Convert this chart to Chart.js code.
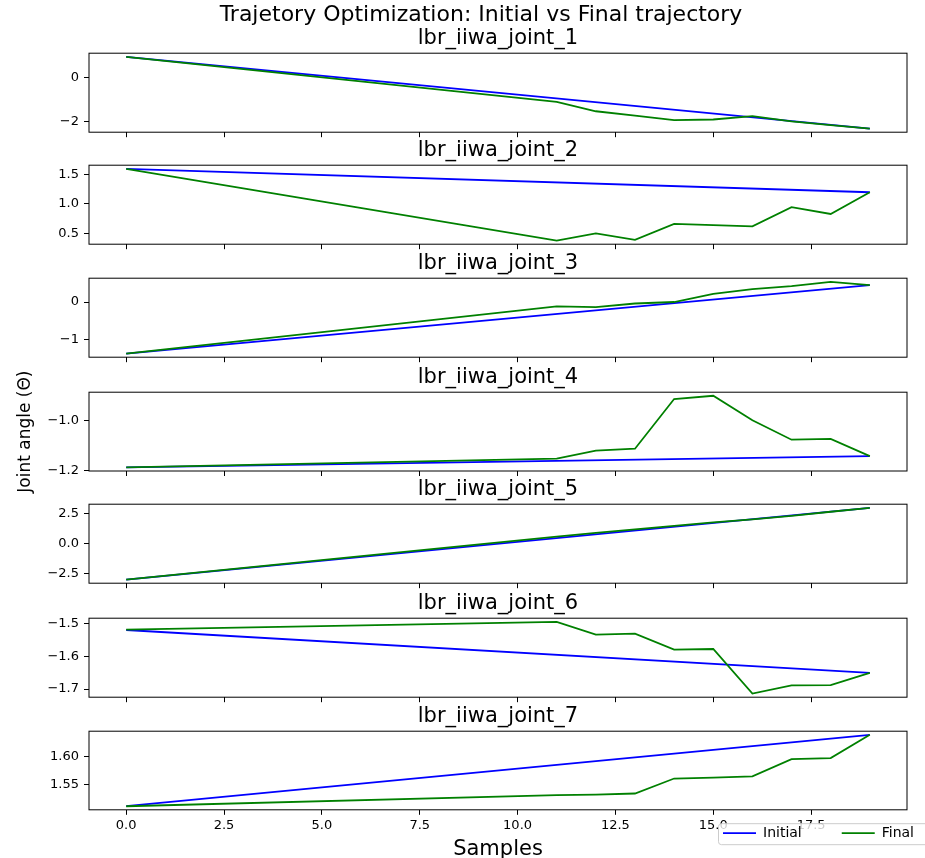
<!DOCTYPE html>
<html>
<head>
<meta charset="utf-8">
<script src="https://cdn.jsdelivr.net/npm/chart.js@4"></script>
<style>
body { margin: 0; background: #fff; overflow: hidden; }
#figure { position: relative; width: 925px; height: 858px; overflow: hidden; background: #fff; }
#figure canvas { position: absolute; left: 0; }
</style>
</head>
<body>
<div id="figure"></div>
<script>
const mainTitle = "Trajetory Optimization: Initial vs Final trajectory";
const jointNames = ["lbr_iiwa_joint_1", "lbr_iiwa_joint_2", "lbr_iiwa_joint_3", "lbr_iiwa_joint_4",
                    "lbr_iiwa_joint_5", "lbr_iiwa_joint_6", "lbr_iiwa_joint_7"];
const seriesNames = ["Initial", "Final"];

const sampleTicks = [0, 2.5, 5, 7.5, 10, 12.5, 15, 17.5];
const initialSamples = [0, 19];
const finalSamples = [0, 11, 12, 13, 14, 15, 16, 17, 18, 19];

const initialJoint1 = [0.93, -2.30];
const initialJoint2 = [1.60, 1.20];
const initialJoint3 = [-1.39, 0.455];
const initialJoint4 = [-1.189, -1.144];
const initialJoint5 = [-2.98, 2.99];
const initialJoint6 = [-1.520, -1.651];
const initialJoint7 = [1.511, 1.640];

const finalJoint1 = [0.93, -1.10, -1.52, -1.72, -1.92, -1.89, -1.74, -1.97, -2.14, -2.30];
const finalJoint2 = [1.60, 0.376, 0.50, 0.39, 0.66, 0.64, 0.62, 0.945, 0.83, 1.20];
const finalJoint3 = [-1.39, -0.116, -0.14, -0.04, 0.0, 0.22, 0.35, 0.43, 0.545, 0.455];
const finalJoint4 = [-1.189, -1.154, -1.122, -1.114, -0.915, -0.902, -1.00, -1.078, -1.075, -1.144];
const finalJoint5 = [-2.98, 0.60, 0.90, 1.20, 1.48, 1.78, 2.03, 2.32, 2.66, 2.99];
const finalJoint6 = [-1.519, -1.495, -1.534, -1.531, -1.580, -1.578, -1.714, -1.689, -1.688, -1.651];
const finalJoint7 = [1.511, 1.531, 1.532, 1.534, 1.561, 1.5625, 1.565, 1.596, 1.598, 1.640];

const yTicksJoint1 = [-2, 0];
const yTicksJoint2 = [0.5, 1.0, 1.5];
const yTicksJoint3 = [-1, 0];
const yTicksJoint4 = [-1.2, -1.0];
const yTicksJoint5 = [-2.5, 0.0, 2.5];
const yTicksJoint6 = [-1.7, -1.6, -1.5];
const yTicksJoint7 = [1.55, 1.60];
const yTickDecimals = [0, 1, 0, 1, 1, 1, 2];

const initialValues = [initialJoint1, initialJoint2, initialJoint3, initialJoint4, initialJoint5, initialJoint6, initialJoint7];
const finalValues = [finalJoint1, finalJoint2, finalJoint3, finalJoint4, finalJoint5, finalJoint6, finalJoint7];
const yTicks = [yTicksJoint1, yTicksJoint2, yTicksJoint3, yTicksJoint4, yTicksJoint5, yTicksJoint6, yTicksJoint7];

// layout of the figure (pixels)
const canvasWidth = 962;
const plotLeft = 89;
const plotRight = 907;
const plotHeight = 79;
const plotTops = [53, 165, 278, 392, 504, 618, 731];
const titleShift = 55;     // suptitle is centred on the (wider) figure, not on the axes
const legendBox = { x: 718, y: 823, w: 260, h: 21 };
const legendItemX = 723;
const legendItemY = 833;
const legendFont = 14;

Chart.defaults.font.family = "'DejaVu Sans', sans-serif";
Chart.defaults.color = "#000";

const figure = document.getElementById("figure");

function paddedRange(values) {
    const lo = Math.min(...values);
    const hi = Math.max(...values);
    const pad = (hi - lo) * 0.05;
    return [lo - pad, hi + pad];
}

function formatTick(value, decimals) {
    return value.toFixed(decimals).replace("-", "\u2212");
}

function toPoints(xs, ys) {
    return xs.map((x, k) => ({ x: x, y: ys[k] }));
}

// full box around each plot, like matplotlib spines
const frame = {
    id: "frame",
    afterDatasetsDraw(chart) {
        const a = chart.chartArea;
        const ctx = chart.ctx;
        ctx.save();
        ctx.strokeStyle = "#000";
        ctx.lineWidth = 1;
        ctx.strokeRect(a.left, a.top, a.right - a.left, a.bottom - a.top);
        ctx.restore();
    }
};

// legend sits over the tick labels (bottom right) in a light, half see-through box
const legendPlacer = {
    id: "legendPlacer",
    beforeUpdate(chart) {
        // draw the legend after the datasets so the box below can cover the tick labels
        chart.legend._layers = () => [{ z: 1, draw: area => chart.legend.draw(area) }];
    },
    beforeDraw(chart) {
        const dy = chart.chartArea.top - plotTops[plotTops.length - 1];
        const legend = chart.legend;
        const pad = legend.options.labels.padding;
        legend.left = legendItemX - pad;
        legend.right = legend.left + legend.width;
        legend.top = legendItemY + dy - pad - legendFont / 2;
        legend.bottom = legend.top + legend.height;
    },
    afterDatasetsDraw(chart) {
        const dy = chart.chartArea.top - plotTops[plotTops.length - 1];
        const ctx = chart.ctx;
        ctx.save();
        ctx.fillStyle = "rgba(255,255,255,0.8)";
        ctx.strokeStyle = "#cccccc";
        ctx.lineWidth = 1;
        ctx.beginPath();
        ctx.roundRect(legendBox.x + 0.5, legendBox.y + dy + 0.5, legendBox.w, legendBox.h, 3);
        ctx.fill();
        ctx.stroke();
        ctx.restore();
    }
};

function makeChart(i) {
    const first = i === 0;
    const last = i === jointNames.length - 1;
    const leftPad = first ? titleShift : 0;
    const xRange = paddedRange(initialSamples.concat(finalSamples));
    const yRange = paddedRange(initialValues[i].concat(finalValues[i]));

    const canvas = document.createElement("canvas");
    canvas.width = canvasWidth;
    canvas.height = 200;
    figure.appendChild(canvas);

    const chart = new Chart(canvas, {
        type: "line",
        data: {
            datasets: [{
                label: seriesNames[0],
                data: toPoints(initialSamples, initialValues[i]),
                borderColor: "#0000ff",
                backgroundColor: "#0000ff",
                borderWidth: 1.8,
                pointRadius: 0,
                tension: 0,
                order: 1
            }, {
                label: seriesNames[1],
                data: toPoints(finalSamples, finalValues[i]),
                borderColor: "#008000",
                backgroundColor: "#008000",
                borderWidth: 1.8,
                pointRadius: 0,
                tension: 0,
                order: 0
            }]
        },
        options: {
            responsive: false,
            maintainAspectRatio: false,
            animation: false,
            layout: {
                padding: {
                    left: leftPad,
                    right: canvasWidth - plotRight,
                    top: i === 3 ? 8 : 0,
                    bottom: i === 3 ? 30 : 0
                }
            },
            plugins: {
                title: {
                    display: true,
                    text: first ? mainTitle : jointNames[i],
                    fullSize: first,
                    color: "#000",
                    font: first ? { size: 22, weight: "normal", lineHeight: 1 } : { size: 21, weight: "normal" },
                    padding: first ? { top: 6, bottom: 0 } : { top: 3, bottom: 2 }
                },
                subtitle: {
                    display: first,
                    text: jointNames[0],
                    fullSize: false,
                    color: "#000",
                    font: { size: 21 },
                    padding: { top: 0, bottom: 2 }
                },
                legend: {
                    display: last,
                    position: "bottom",
                    align: "start",
                    labels: {
                        usePointStyle: true,
                        pointStyle: "line",
                        pointStyleWidth: 33,
                        boxHeight: legendFont,
                        padding: 40,
                        color: "#000",
                        font: { size: legendFont },
                        sort: (a, b) => a.datasetIndex - b.datasetIndex
                    }
                },
                tooltip: { enabled: false }
            },
            scales: {
                x: {
                    type: "linear",
                    min: xRange[0],
                    max: xRange[1],
                    afterBuildTicks: scale => { scale.ticks = sampleTicks.map(v => ({ value: v })); },
                    ticks: {
                        display: last,
                        autoSkip: false,
                        maxRotation: 0,
                        padding: 3,
                        color: "#000",
                        font: { size: 13, lineHeight: "16px" },
                        callback: v => v.toFixed(1)
                    },
                    grid: { drawOnChartArea: false, tickLength: 5, color: "#000" },
                    border: { display: false },
                    title: {
                        display: last,
                        text: "Samples",
                        color: "#000",
                        font: { size: 21 },
                        padding: { top: 0, bottom: 0 }
                    }
                },
                y: {
                    min: yRange[0],
                    max: yRange[1],
                    afterBuildTicks: scale => { scale.ticks = yTicks[i].map(v => ({ value: v })); },
                    afterFit: scale => { scale.width = plotLeft - leftPad; },
                    ticks: {
                        padding: 5,
                        color: "#000",
                        font: { size: 13 },
                        callback: v => formatTick(v, yTickDecimals[i])
                    },
                    grid: { drawOnChartArea: false, tickLength: 5, color: "#000" },
                    border: { display: false },
                    title: {
                        display: i === 3,
                        text: "Joint angle (\u0398)",
                        color: "#000",
                        font: { size: 17 },
                        padding: { top: 15, bottom: 0 }
                    }
                }
            }
        },
        plugins: last ? [frame, legendPlacer] : [frame]
    });

    // size the canvas so the plot area is plotHeight tall, then move it into place
    const area = chart.chartArea;
    chart.resize(canvasWidth, Math.round(200 - (area.bottom - area.top) + plotHeight));
    canvas.style.top = Math.round(plotTops[i] - chart.chartArea.top) + "px";
}

jointNames.forEach((name, i) => makeChart(i));
</script>
</body>
</html>
